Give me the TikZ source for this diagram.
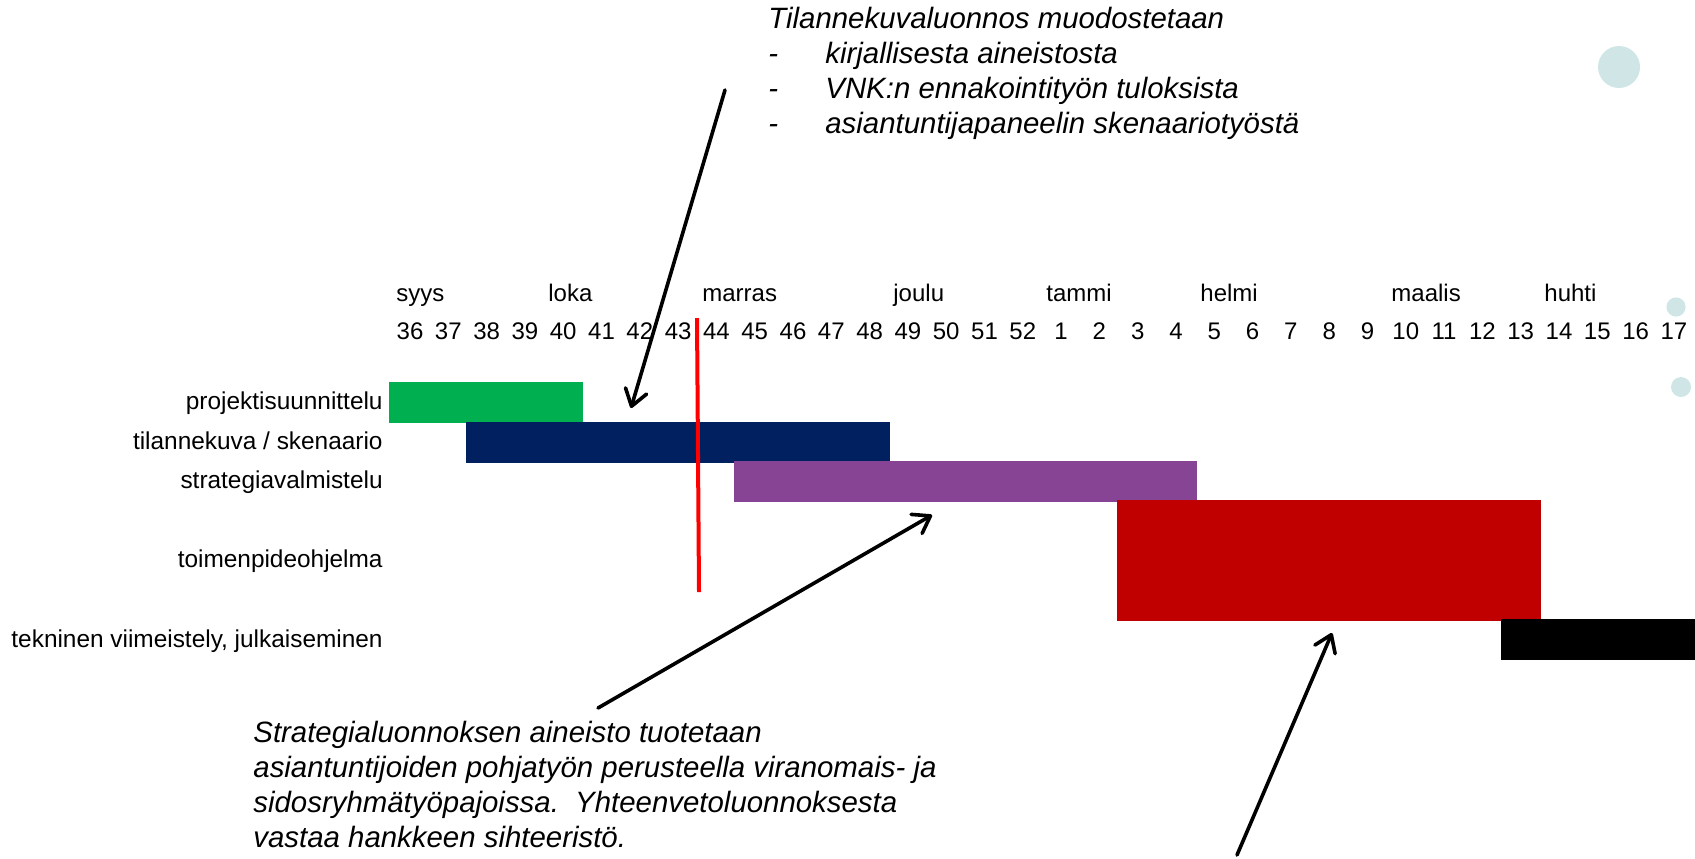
\documentclass[tikz,border=0pt]{standalone}
\usepackage{fontspec}
\setmainfont{Liberation Sans}
\usetikzlibrary{arrows.meta}

\definecolor{barGreen}{HTML}{00B050}
\definecolor{barNavy}{HTML}{002060}
\definecolor{barPurple}{HTML}{884494}
\definecolor{barRed}{HTML}{C00000}
\definecolor{dotTeal}{HTML}{D0E6E6}

\tikzset{
  week/.style={anchor=base,inner sep=0pt,font=\fontsize{12}{14}\selectfont},
  month/.style={anchor=base west,inner sep=0pt,font=\fontsize{12}{14}\selectfont},
  task/.style={anchor=base east,inner sep=0pt,font=\fontsize{12.2}{14}\selectfont},
  note/.style={anchor=north west,inner sep=0pt,align=left,font=\fontsize{14.7}{17.5}\selectfont\itshape},
  pointer/.style={line width=1.8pt,line cap=round,-{Straight Barb[length=8pt,width=11pt,round]}},
  nowline/.style={line width=2pt,red}
}

\begin{document}
\begin{tikzpicture}[x=0.5pt,y=-0.5pt]
\useasboundingbox (0,0) rectangle (1695,858);

% dots
\fill[dotTeal] (1619,67) circle (10.5pt);
\fill[dotTeal] (1676,307) circle (4.8pt);
\fill[dotTeal] (1681,387) circle (5pt);

% months
\node[month] (syys) at (396,301) {syys};
\node[month] (loka) at (548,301) {loka};
\node[month] (marras) at (702,301) {marras};
\node[month] (joulu) at (893,301) {joulu};
\node[month] (tammi) at (1046,301) {tammi};
\node[month] (helmi) at (1200,301) {helmi};
\node[month] (maalis) at (1391,301) {maalis};
\node[month] (huhti) at (1544,301) {huhti};

% weeks 36..52, 1..17
\foreach \i in {0,...,33} {
  \pgfmathtruncatemacro\w{mod(\i+35,52)+1}
  \node[week] (w\i) at (410+38.3*\i,339) {\w};
}

% tasks
\node[task] (proj) at (383,409) {projektisuunnittelu};
\node[task] (tilanne) at (383,449) {tilannekuva / skenaario};
\node[task] (strat) at (383,488) {strategiavalmistelu};
\node[task] (toimen) at (383,567) {toimenpideohjelma};
\node[task] (tekn) at (383,647) {tekninen viimeistely, julkaiseminen};

% bars
\fill[barGreen] (389,382) rectangle (583,423);
\fill[barNavy] (466,422) rectangle (890,463);
\fill[barPurple] (734,461) rectangle (1197,502);
\fill[barRed] (1117,500) rectangle (1541,621);
\fill[black] (1501,619) rectangle (1695,660);

\draw[nowline] (697,318) -- (699,592);

% notes
\node[note] (ntop) at (768,7) {Tilannekuvaluonnos muodostetaan\\
\makebox[28.5pt][l]{-}kirjallisesta aineistosta\\
\makebox[28.5pt][l]{-}VNK:n ennakointityön tuloksista\\
\makebox[28.5pt][l]{-}asiantuntijapaneelin skenaariotyöstä};
\node[note] (nstrat) at (253,721) {Strategialuonnoksen aineisto tuotetaan\\
asiantuntijoiden pohjatyön perusteella viranomais- ja\\
sidosryhmätyöpajoissa.\ \ Yhteenvetoluonnoksesta\\
vastaa hankkeen sihteeristö.};

\coordinate (t1) at (725,90);
\coordinate (h1) at (631,408);
\coordinate (t2) at (598,708);
\coordinate (h2) at (932,515);
\coordinate (t3) at (1237,855);
\coordinate (h3) at (1332,633);
\draw[pointer] (t1) -- (h1);
\draw[pointer] (t2) -- (h2);
\draw[pointer] (t3) -- (h3);

\end{tikzpicture}
\end{document}
